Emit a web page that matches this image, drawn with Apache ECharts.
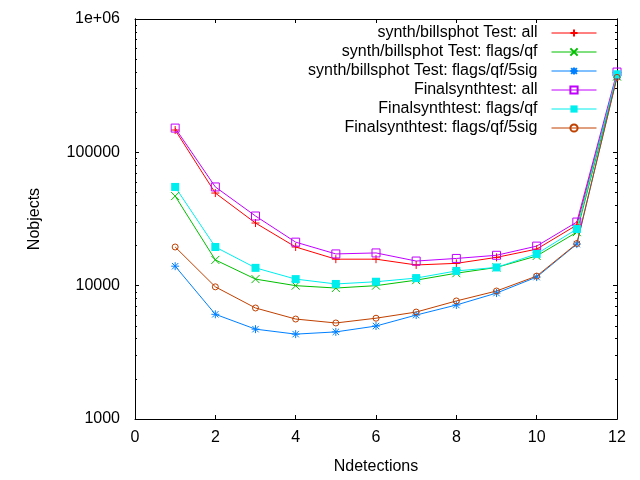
<!DOCTYPE html>
<html>
<head>
<meta charset="utf-8">
<script src="https://cdn.jsdelivr.net/npm/echarts@6/dist/echarts.min.js"></script>
<style>html,body{margin:0;padding:0;background:#fff}#c{width:640px;height:480px}</style>
</head>
<body>
<div id="c"></div>
<script>
const ndet = [1,2,3,4,5,6,7,8,9,10,11,12];
const synthAll = [147000, 49500, 29500, 19500, 15800, 15800, 14300, 14700, 16300, 18800, 28500, 380000];
const synthQf = [47000, 15600, 11200, 10000, 9600, 10000, 11000, 12400, 13700, 16700, 25200, 370000];
const synthQf5 = [14000, 6100, 4720, 4330, 4500, 4980, 6020, 7160, 8800, 11600, 20500, 370000];
const finalAll = [152000, 55000, 33300, 21200, 17300, 17600, 15300, 16000, 16900, 19800, 30000, 400000];
const finalQf = [55000, 19500, 13600, 11200, 10300, 10700, 11400, 12900, 13700, 17300, 26600, 385000];
const finalQf5 = [19500, 9800, 6800, 5620, 5250, 5700, 6340, 7680, 9120, 11800, 20700, 365000];
const seriesNames = ['synth/billsphot Test: all','synth/billsphot Test: flags/qf','synth/billsphot Test: flags/qf/5sig','Finalsynthtest: all','Finalsynthtest: flags/qf','Finalsynthtest: flags/qf/5sig'];
const seriesData = [synthAll, synthQf, synthQf5, finalAll, finalQf, finalQf5];
const yMajor = [1000, 10000, 100000, 1000000];
const yMinor = [];
for (const d of [1000, 10000, 100000]) for (let k = 2; k <= 9; k++) yMinor.push(d * k);

const colors = ['#ff0000','#00c000','#0080ff','#c000ff','#00eeee','#c04000'];
const symbols = [
  'path://M5,0L5,10M0,5L10,5',
  'path://M0,0L10,10M0,10L10,0',
  'path://M5,0L5,10M0,5L10,5M1,1L9,9M1,9L9,1',
  'path://M0,0L10,0L10,10L0,10Z',
  'rect',
  'path://M10,5A5,5 0 1 1 0,5A5,5 0 1 1 10,5Z'
];
const sizes = [8, 8, 8, 8, 8, 6];
const filled = [false,false,false,false,true,false];

const FONT = 'Liberation Sans';
const series = seriesNames.map((name, i) => ({
  name,
  type: 'line',
  data: ndet.map((x, j) => [x, seriesData[i][j]]),
  symbol: symbols[i],
  symbolSize: sizes[i],
  showAllSymbol: true,
  lineStyle: { color: colors[i], width: 1 },
  itemStyle: { color: filled[i] ? colors[i] : 'rgba(0,0,0,0)', borderColor: colors[i], borderWidth: filled[i] ? 0 : 1 },
  emphasis: { disabled: true },
  animation: false
}));

const common = { axisLine: { show: true, lineStyle: { color: '#000', width: 1 } }, splitLine: { show: false } };
const chart = echarts.init(document.getElementById('c'));
chart.setOption({
  backgroundColor: '#fff',
  animation: false,
  textStyle: { fontFamily: FONT },
  grid: { left: 135, right: 23, top: 19, bottom: 61 },
  legend: {
    orient: 'vertical', right: 38, top: 19, align: 'right',
    itemWidth: 45, itemHeight: 9, itemGap: 1,
    lineStyle: { width: 1 },
    textStyle: { fontFamily: FONT, fontSize: 16, lineHeight: 18, color: '#000', padding: [0, 9, 0, 0] },
    data: seriesNames
  },
  xAxis: [
    Object.assign({ type: 'value', min: 0, max: 12, interval: 2, position: 'bottom',
      name: 'Ndetections', nameLocation: 'middle', nameGap: 40,
      nameTextStyle: { fontFamily: FONT, fontSize: 16, color: '#000' },
      axisTick: { inside: true, length: 4, lineStyle: { color: '#000' } },
      axisLabel: { fontFamily: FONT, fontSize: 16, color: '#000', margin: 11 } }, common),
    Object.assign({ type: 'value', min: 0, max: 12, interval: 2, position: 'top',
      axisTick: { inside: true, length: 4, lineStyle: { color: '#000' } },
      axisLabel: { show: false } }, common)
  ],
  yAxis: [
    Object.assign({ type: 'log', logBase: 10, min: 1000, max: 1000000, position: 'left',
      name: 'Nobjects', nameLocation: 'middle', nameGap: 92,
      nameTextStyle: { fontFamily: FONT, fontSize: 16, color: '#000' },
      axisTick: { inside: true, length: 4, customValues: yMajor, lineStyle: { color: '#000' } },
      axisLabel: { fontFamily: FONT, fontSize: 16, color: '#000', margin: 15, customValues: yMajor,
        formatter: v => (v >= 1000000 ? '1e+06' : String(Math.round(v))) } }, common),
    Object.assign({ type: 'log', logBase: 10, min: 1000, max: 1000000, position: 'left',
      axisTick: { inside: true, length: 2, customValues: yMinor, lineStyle: { color: '#000' } },
      axisLabel: { show: false } }, common),
    Object.assign({ type: 'log', logBase: 10, min: 1000, max: 1000000, position: 'right',
      axisTick: { inside: true, length: 4, customValues: yMajor, lineStyle: { color: '#000' } },
      axisLabel: { show: false } }, common),
    Object.assign({ type: 'log', logBase: 10, min: 1000, max: 1000000, position: 'right',
      axisTick: { inside: true, length: 2, customValues: yMinor, lineStyle: { color: '#000' } },
      axisLabel: { show: false } }, common)
  ],
  series
});
</script>
</body>
</html>
